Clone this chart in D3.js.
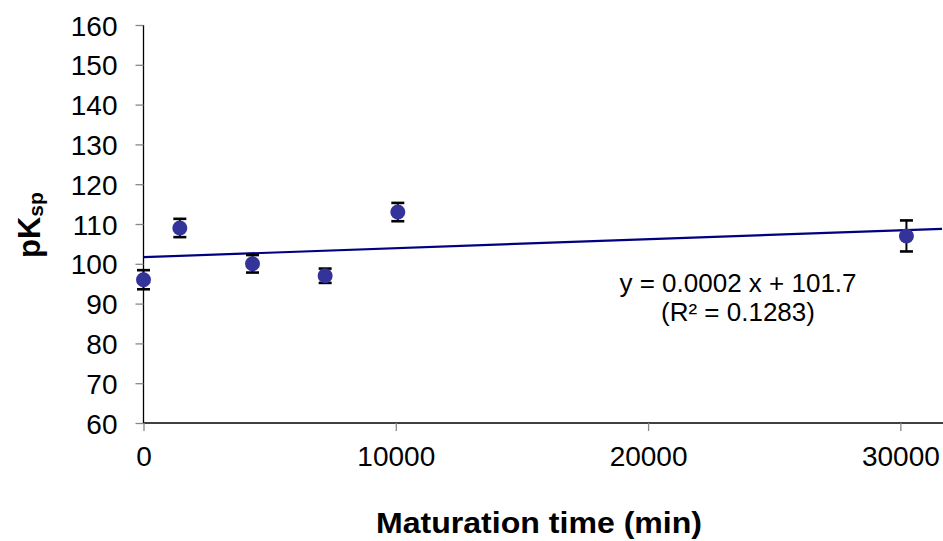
<!DOCTYPE html>
<html>
<head>
<meta charset="utf-8">
<script src="https://cdn.jsdelivr.net/npm/d3@7"></script>
<style>
  html, body { margin: 0; padding: 0; background: #fff; }
  svg { display: block; font-family: "Liberation Sans", Arial, sans-serif; }
</style>
</head>
<body>
<svg id="chart" width="943" height="541"></svg>
<script>
// ---- data ----
const times = [0, 1440, 4320, 7200, 10080, 30240];       // maturation time (min)
const pKsp = [96, 109, 100, 97, 113, 107];                // pKsp values
const errors = [2.4, 2.3, 2.2, 1.8, 2.3, 3.9];            // error bar half-heights
const xTicks = [0, 10000, 20000, 30000];
const yTicks = [60, 70, 80, 90, 100, 110, 120, 130, 140, 150, 160];
const equationLines = ["y = 0.0002 x + 101.7", "(R\u00B2 = 0.1283)"];

// ---- layout ----
const W = 943, H = 541;
const m = { left: 143.5, top: 25, right: 1, bottom: 118 };
const svg = d3.select("#chart");

const x = d3.scaleLinear().domain([0, 31650]).range([m.left, W - m.right]);
const y = d3.scaleLinear().domain([60, 160]).range([H - m.bottom, m.top]);

// y axis
const yAxis = svg.append("g")
  .attr("transform", `translate(${m.left},0)`)
  .call(d3.axisLeft(y).tickValues(yTicks).tickSize(8).tickPadding(18).tickFormat(d3.format("d")));
yAxis.select(".domain").attr("stroke", "#000").attr("stroke-width", 1.3).attr("d", `M0,${y(60)}V${y(160)}`);
yAxis.selectAll(".tick line").attr("stroke", "#888").attr("stroke-width", 1.3);
yAxis.selectAll(".tick text").attr("font-size", 28).attr("fill", "#000").attr("dy", "0.36em");

// x axis
const xAxis = svg.append("g")
  .attr("transform", `translate(0,${y(60)})`)
  .call(d3.axisBottom(x).tickValues(xTicks).tickSize(8).tickPadding(15).tickFormat(d3.format("d")));
xAxis.select(".domain").attr("stroke", "#000").attr("stroke-width", 1.3).attr("d", `M${m.left},0H${W}`);
xAxis.selectAll(".tick line").attr("stroke", "#888").attr("stroke-width", 1.3);
xAxis.selectAll(".tick text").attr("font-size", 28).attr("fill", "#000");

// regression line computed from the data
const mx = d3.mean(times), my = d3.mean(pKsp);
const sxy = d3.sum(times, (t, i) => (t - mx) * (pKsp[i] - my));
const sxx = d3.sum(times, t => (t - mx) * (t - mx));
const slope = sxy / sxx, intercept = my - slope * mx;
const xEnd = x.domain()[1];
svg.append("line")
  .attr("x1", x(0)).attr("y1", y(intercept))
  .attr("x2", x(xEnd)).attr("y2", y(intercept + slope * xEnd))
  .attr("stroke", "#000080").attr("stroke-width", 2.2);

// error bars
const pts = times.map((t, i) => ({ t, v: pKsp[i], e: errors[i] }));
const eb = svg.append("g").attr("stroke", "#000").attr("stroke-width", 2.6);
eb.selectAll("line.v").data(pts).join("line").attr("class", "v")
  .attr("stroke-width", 2)
  .attr("x1", d => x(d.t)).attr("x2", d => x(d.t))
  .attr("y1", d => y(d.v + d.e)).attr("y2", d => y(d.v - d.e));
eb.selectAll("line.top").data(pts).join("line").attr("class", "top")
  .attr("x1", d => x(d.t) - 6.5).attr("x2", d => x(d.t) + 6.5)
  .attr("y1", d => y(d.v + d.e)).attr("y2", d => y(d.v + d.e));
eb.selectAll("line.bot").data(pts).join("line").attr("class", "bot")
  .attr("x1", d => x(d.t) - 6.5).attr("x2", d => x(d.t) + 6.5)
  .attr("y1", d => y(d.v - d.e)).attr("y2", d => y(d.v - d.e));

// points
svg.append("g").selectAll("circle").data(pts).join("circle")
  .attr("cx", d => x(d.t)).attr("cy", d => y(d.v)).attr("r", 7.5)
  .attr("fill", "#333399");

// equation
const eq = svg.append("text").attr("font-size", 26).attr("fill", "#000").attr("text-anchor", "middle");
eq.selectAll("tspan").data(equationLines).join("tspan")
  .attr("x", 738).attr("y", (d, i) => 292 + i * 29).text(d => d);

// axis titles
svg.append("text")
  .attr("x", 376).attr("y", 533)
  .attr("font-size", 30).attr("font-weight", "bold")
  .attr("textLength", 326).attr("lengthAdjust", "spacingAndGlyphs")
  .text("Maturation time (min)");

const yt = svg.append("text")
  .attr("transform", "translate(40,258) rotate(-90)")
  .attr("font-size", 31).attr("font-weight", "bold");
yt.append("tspan").text("pK");
yt.append("tspan").attr("font-size", 21).attr("dy", 3).text("sp");
</script>
</body>
</html>
